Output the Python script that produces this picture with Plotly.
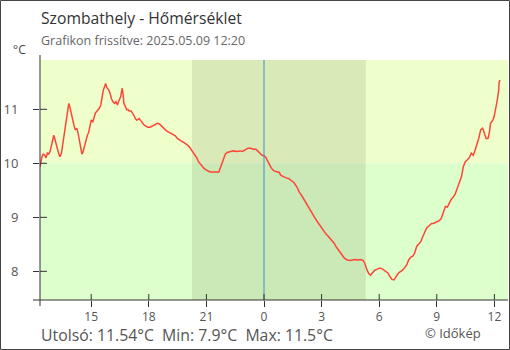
import plotly.graph_objects as go
from datetime import datetime, timedelta

# ---- data ----
times = ["12:20","12:22","12:26","12:30","12:35","12:39","12:43","12:47","12:51","12:55",
 "13:00","13:03","13:06","13:10","13:14","13:18","13:22","13:27","13:30","13:34",
 "13:37","13:41","13:45","13:50","13:53","13:57","14:02","14:06","14:10","14:15",
 "14:19","14:23","14:27","14:31","14:34","14:38","14:44","14:48","14:52","14:56",
 "15:00","15:05","15:09","15:13","15:17","15:21","15:25","15:30","15:34","15:38",
 "15:42","15:45","15:49","15:55","15:59","16:03","16:08","16:13","16:17","16:22",
 "16:26","16:30","16:32","16:35","16:37","16:40","16:42","16:47","16:51","16:55",
 "16:59","17:05","17:10","17:14","17:18","17:22","17:26","17:30","17:35","17:39",
 "17:45","17:51","17:57","18:04","18:08","18:14","18:20","18:27","18:33","18:39",
 "18:45","18:52","18:58","19:04","19:10","19:17","19:23","19:29","19:35","19:42",
 "19:48","19:54","20:00","20:07","20:13","20:19","20:25","20:31","20:35","20:40",
 "20:46","20:52","20:59","21:05","21:11","21:21","21:31","21:39","21:42","21:47",
 "21:51","21:55","21:59","22:05","22:14","22:24","22:35","22:45","22:53","23:02",
 "23:10","23:18","23:27","23:35","23:41","23:47","23:54","00:00","00:06","00:10",
 "00:17","00:23","00:31","00:40","00:48","00:52","01:00","01:09","01:17","01:25",
 "01:34","01:42","01:50","01:59","02:07","02:15","02:24","02:32","02:40","02:49",
 "02:57","03:05","03:14","03:22","03:30","03:39","03:47","03:55","04:04","04:12",
 "04:20","04:29","04:37","04:45","04:54","05:02","05:10","05:15","05:21","05:27",
 "05:33","05:40","05:46","05:54","06:02","06:11","06:19","06:27","06:34","06:40",
 "06:46","06:52","06:59","07:05","07:13","07:20","07:26","07:32","07:38","07:45",
 "07:51","07:57","08:03","08:10","08:16","08:22","08:28","08:35","08:43","08:51",
 "09:00","09:08","09:14","09:20","09:27","09:33","09:39","09:45","09:52","09:58",
 "10:04","10:10","10:17","10:23","10:29","10:35","10:42","10:48","10:54","11:00",
 "11:05","11:11","11:17","11:23","11:27","11:34","11:40","11:44","11:48","11:55",
 "11:59","12:05","12:09","12:13","12:15","12:18"]
temps = [9.93,10.00,10.12,10.17,10.15,10.10,10.19,10.17,10.21,10.31,
 10.43,10.52,10.46,10.34,10.28,10.19,10.12,10.19,10.31,10.43,
 10.56,10.71,10.89,11.11,11.05,10.93,10.83,10.71,10.62,10.65,
 10.56,10.40,10.31,10.17,10.20,10.31,10.43,10.52,10.57,10.68,
 10.80,10.77,10.86,10.93,10.96,10.99,11.02,11.08,11.26,11.36,
 11.42,11.48,11.40,11.36,11.30,11.20,11.14,11.11,11.14,11.08,
 11.15,11.19,11.23,11.33,11.39,11.26,11.11,11.05,10.99,11.00,
 10.97,10.97,10.93,10.88,10.83,10.80,10.81,10.83,10.79,10.75,
 10.71,10.69,10.67,10.67,10.68,10.71,10.72,10.74,10.73,10.69,
 10.65,10.62,10.59,10.57,10.56,10.54,10.51,10.46,10.43,10.41,
 10.39,10.37,10.34,10.30,10.25,10.21,10.15,10.09,10.03,9.99,
 9.94,9.91,9.88,9.86,9.84,9.84,9.84,9.84,9.89,9.97,
 10.05,10.12,10.17,10.20,10.21,10.23,10.22,10.23,10.22,10.25,
 10.28,10.28,10.26,10.26,10.23,10.19,10.15,10.14,10.11,10.06,
 9.99,9.91,9.86,9.84,9.83,9.78,9.75,9.73,9.72,9.69,
 9.64,9.57,9.47,9.39,9.31,9.21,9.14,9.06,8.98,8.90,
 8.83,8.75,8.69,8.64,8.59,8.52,8.44,8.38,8.30,8.24,
 8.21,8.20,8.21,8.22,8.21,8.22,8.20,8.15,8.04,7.96,
 7.93,7.97,8.02,8.04,8.06,8.04,8.01,7.97,7.90,7.85,
 7.84,7.90,7.96,7.99,8.02,8.07,8.12,8.21,8.26,8.28,
 8.34,8.46,8.51,8.55,8.64,8.71,8.80,8.84,8.88,8.89,
 8.92,8.94,8.98,9.07,9.20,9.19,9.26,9.33,9.38,9.44,
 9.54,9.63,9.75,9.94,10.03,10.06,10.11,10.19,10.15,10.25,
 10.34,10.46,10.62,10.65,10.59,10.46,10.46,10.56,10.74,10.80,
 10.86,11.02,11.17,11.33,11.51,11.54]

start_day = "2025-05-08"
x_range = ["2025-05-08 12:20", "2025-05-09 12:42:30"]
y_range = [7.469, 11.913]
x_tickvals = ["2025-05-08 15:00","2025-05-08 18:00","2025-05-08 21:00","2025-05-09 00:00",
              "2025-05-09 03:00","2025-05-09 06:00","2025-05-09 09:00","2025-05-09 12:00"]
x_ticktext = ["15","18","21","0","3","6","9","12"]
y_tickvals = [8, 9, 10, 11]
night = ["2025-05-08 20:15", "2025-05-09 05:18"]
midnight = "2025-05-09 00:00"
threshold = 10

title = "Szombathely - Hőmérséklet"
subtitle = "Grafikon frissítve: 2025.05.09 12:20"
footer = "Utolsó: 11.54°C  Min: 7.9°C  Max: 11.5°C"
credit = "© Időkép"

# build datetimes with day rollover
base = datetime.strptime(start_day, "%Y-%m-%d")
xs = []
day = 0
prev = None
for t in times:
    h, m = map(int, t.split(":"))
    mins = h * 60 + m
    if prev is not None and mins < prev:
        day += 1
    prev = mins
    xs.append(base + timedelta(days=day, minutes=mins))

W, H = 510, 350
ML, MR, MT, MB = 40, 2, 60, 50
PW, PH = W - ML - MR, H - MT - MB
def px(x): return (x - ML) / PW
def py(y): return (H - MB - y) / PH

FONT = "Open Sans"
fig = go.Figure()
fig.add_trace(go.Scatter(x=xs, y=temps, mode="lines",
                         line=dict(color="#ff4538", width=1.5), hoverinfo="skip"))

shapes = [
    dict(type="rect", xref="paper", yref="y", x0=0, x1=1, y0=threshold, y1=y_range[1],
         fillcolor="#eeffcc", line_width=0, layer="below"),
    dict(type="rect", xref="paper", yref="y", x0=0, x1=1, y0=y_range[0], y1=threshold,
         fillcolor="#ddffcc", line_width=0, layer="below"),
    dict(type="rect", xref="x", yref="paper", x0=night[0], x1=night[1], y0=0, y1=1,
         fillcolor="rgba(40,40,0,0.10)", line_width=0, layer="below"),
    dict(type="line", xref="x", yref="paper", x0=midnight, x1=midnight, y0=0, y1=1,
         line=dict(color="#3f8fc6", width=1)),
    # axis lines
    dict(type="line", xref="paper", yref="paper", x0=0, x1=0, y0=py(306), y1=py(55),
         line=dict(color="#333", width=1)),
    dict(type="line", xref="paper", yref="paper", x0=px(33), x1=1, y0=0, y1=0,
         line=dict(color="#333", width=1)),
    # outer border
    dict(type="rect", xref="paper", yref="paper", x0=px(0.5), x1=px(509.5),
         y0=py(349.5), y1=py(0.5), line=dict(color="#444", width=1)),
]
for tv in x_tickvals:
    shapes.append(dict(type="line", xref="x", yref="paper", x0=tv, x1=tv, y0=0, y1=6/PH,
                       line=dict(color="#333", width=1)))
for tv in y_tickvals:
    shapes.append(dict(type="line", xref="paper", yref="y", x0=0, x1=7/PW, y0=tv, y1=tv,
                       line=dict(color="#333", width=1)))

annotations = [
    dict(text=title, xref="paper", yref="paper", x=px(40), y=py(18), xanchor="left",
         yanchor="middle", showarrow=False, borderpad=0,
         font=dict(family=FONT, size=15.7, color="#333")),
    dict(text=subtitle, xref="paper", yref="paper", x=px(40), y=py(40), xanchor="left",
         yanchor="middle", showarrow=False, borderpad=0,
         font=dict(family=FONT, size=12.5, color="#666")),
    dict(text="°C", xref="paper", yref="paper", x=px(19), y=py(50), xanchor="center",
         yanchor="middle", showarrow=False, borderpad=0,
         font=dict(family=FONT, size=12, color="#444")),
    dict(text=footer, xref="paper", yref="paper", x=px(40), y=py(334.5), xanchor="left",
         yanchor="middle", showarrow=False, borderpad=0,
         font=dict(family=FONT, size=15.8, color="#555")),
    dict(text=credit, xref="paper", yref="paper", x=px(453), y=py(332.5), xanchor="center",
         yanchor="middle", showarrow=False, borderpad=0,
         font=dict(family=FONT, size=13, color="#555")),
]

fig.update_layout(
    width=W, height=H, margin=dict(l=ML, r=MR, t=MT, b=MB),
    paper_bgcolor="white", plot_bgcolor="white", showlegend=False,
    shapes=shapes, annotations=annotations,
    xaxis=dict(type="date", range=x_range, tickvals=x_tickvals, ticktext=x_ticktext,
               ticks="outside", ticklen=6, tickcolor="#333", showgrid=False,
               zeroline=False, showline=False,
               tickfont=dict(family=FONT, size=12, color="#555")),
    yaxis=dict(range=y_range, tickvals=y_tickvals, ticks="outside", ticklen=6,
               tickcolor="#333", showgrid=False, zeroline=False, showline=False,
               ticklabelstandoff=12,
               tickfont=dict(family=FONT, size=13, color="#555")),
)
fig.write_html("out.html")
